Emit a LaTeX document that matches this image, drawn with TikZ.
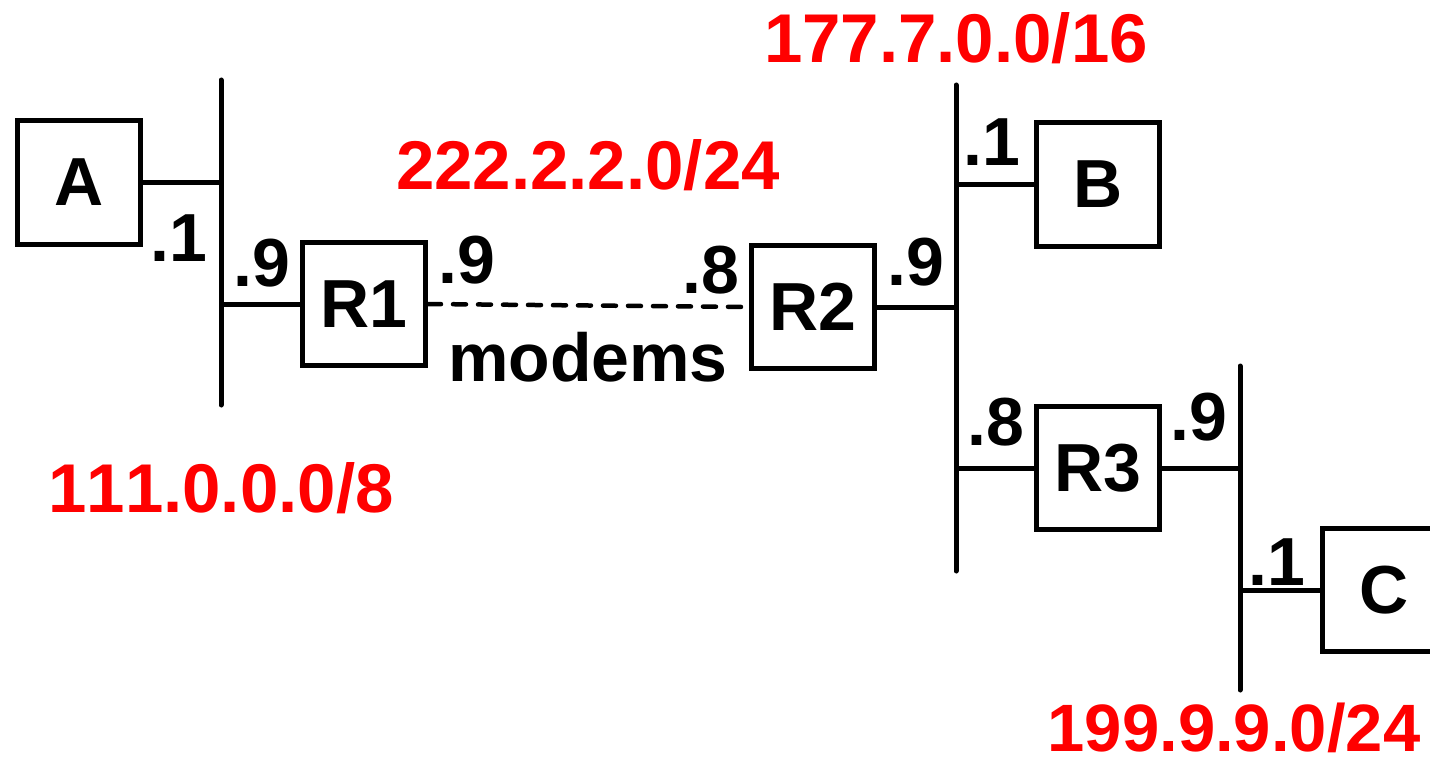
\documentclass[tikz,border=0pt]{standalone}
\usepackage{fontspec}
\setmainfont{Liberation Sans}[Kerning=Off]
\definecolor{netred}{RGB}{255,0,0}
\begin{document}
\begin{tikzpicture}[x=1pt,y=-1pt,
  hostbox/.style={draw,line width=5pt,minimum width=123pt,minimum height=123pt,inner sep=0pt,font=\fontsize{68}{70}\selectfont\bfseries},
  lbl/.style={inner sep=0pt,font=\fontsize{68}{70}\selectfont\bfseries},
  netlbl/.style={inner sep=0pt,text depth=0pt,text=netred,font=\fontsize{69}{71}\selectfont\bfseries},
  bus/.style={line width=5pt,line cap=round},
  link/.style={line width=5pt},
  modem/.style={line width=4.5pt,dash pattern=on 13pt off 12pt,line cap=round}]
\useasboundingbox (0,0) rectangle (1430,757);
% buses
\coordinate (b1t) at (221,80);
\coordinate (b1b) at (221,405);
\coordinate (b2t) at (956,85);
\coordinate (b2b) at (956,571);
\coordinate (b3t) at (1240,366);
\coordinate (b3b) at (1240,690);
\draw[bus] (b1t) -- (b1b);
\draw[bus] (b2t) -- (b2b);
\draw[bus] (b3t) -- (b3b);
% boxes
\node[hostbox] (A) at (79,182.5) {A};
\node[hostbox] (R1) at (364,304) {R1};
\node[hostbox] (R2) at (813,307) {R2};
\node[hostbox] (B) at (1098,184.5) {B};
\node[hostbox] (R3) at (1098,468) {R3};
\node[hostbox] (C) at (1384,590) {C};
% links
\draw[link] (A.east) -- (A.east -| b1t);
\draw[link] (R1.west) -- (R1.west -| b1t);
\draw[modem] (R1.east) -- (R2.west);
\draw[link] (R2.east) -- (R2.east -| b2t);
\draw[link] (B.west) -- (B.west -| b2t);
\draw[link] (R3.west) -- (R3.west -| b2t);
\draw[link] (R3.east) -- (R3.east -| b3t);
\draw[link] (C.west) -- (C.west -| b3t);
% interface labels
\node[lbl] (a1) at (178.5,238.5) {.1};
\node[lbl] (r1a) at (262,263) {.9};
\node[lbl] (r1b) at (467,260) {.9};
\node[lbl] (r2a) at (711,270) {.8};
\node[lbl] (r2b) at (916,262) {.9};
\node[lbl] (bb) at (992,142) {.1};
\node[lbl] (r3a) at (996,422) {.8};
\node[lbl] (r3b) at (1199,417) {.9};
\node[lbl] (cc) at (1277,562) {.1};
\node[lbl] (mod) at (588,357) {modems};
% network labels
\node[netlbl] (n1) at (221,487) {111.0.0.0/8};
\node[netlbl] (n2) at (588,165) {222.2.2.0/24};
\node[netlbl] (n3) at (956,38) {177.7.0.0/16};
\node[netlbl,font=\fontsize{67}{69}\selectfont\bfseries] (n4) at (1234,727) {199.9.9.0/24};
\end{tikzpicture}
\end{document}
